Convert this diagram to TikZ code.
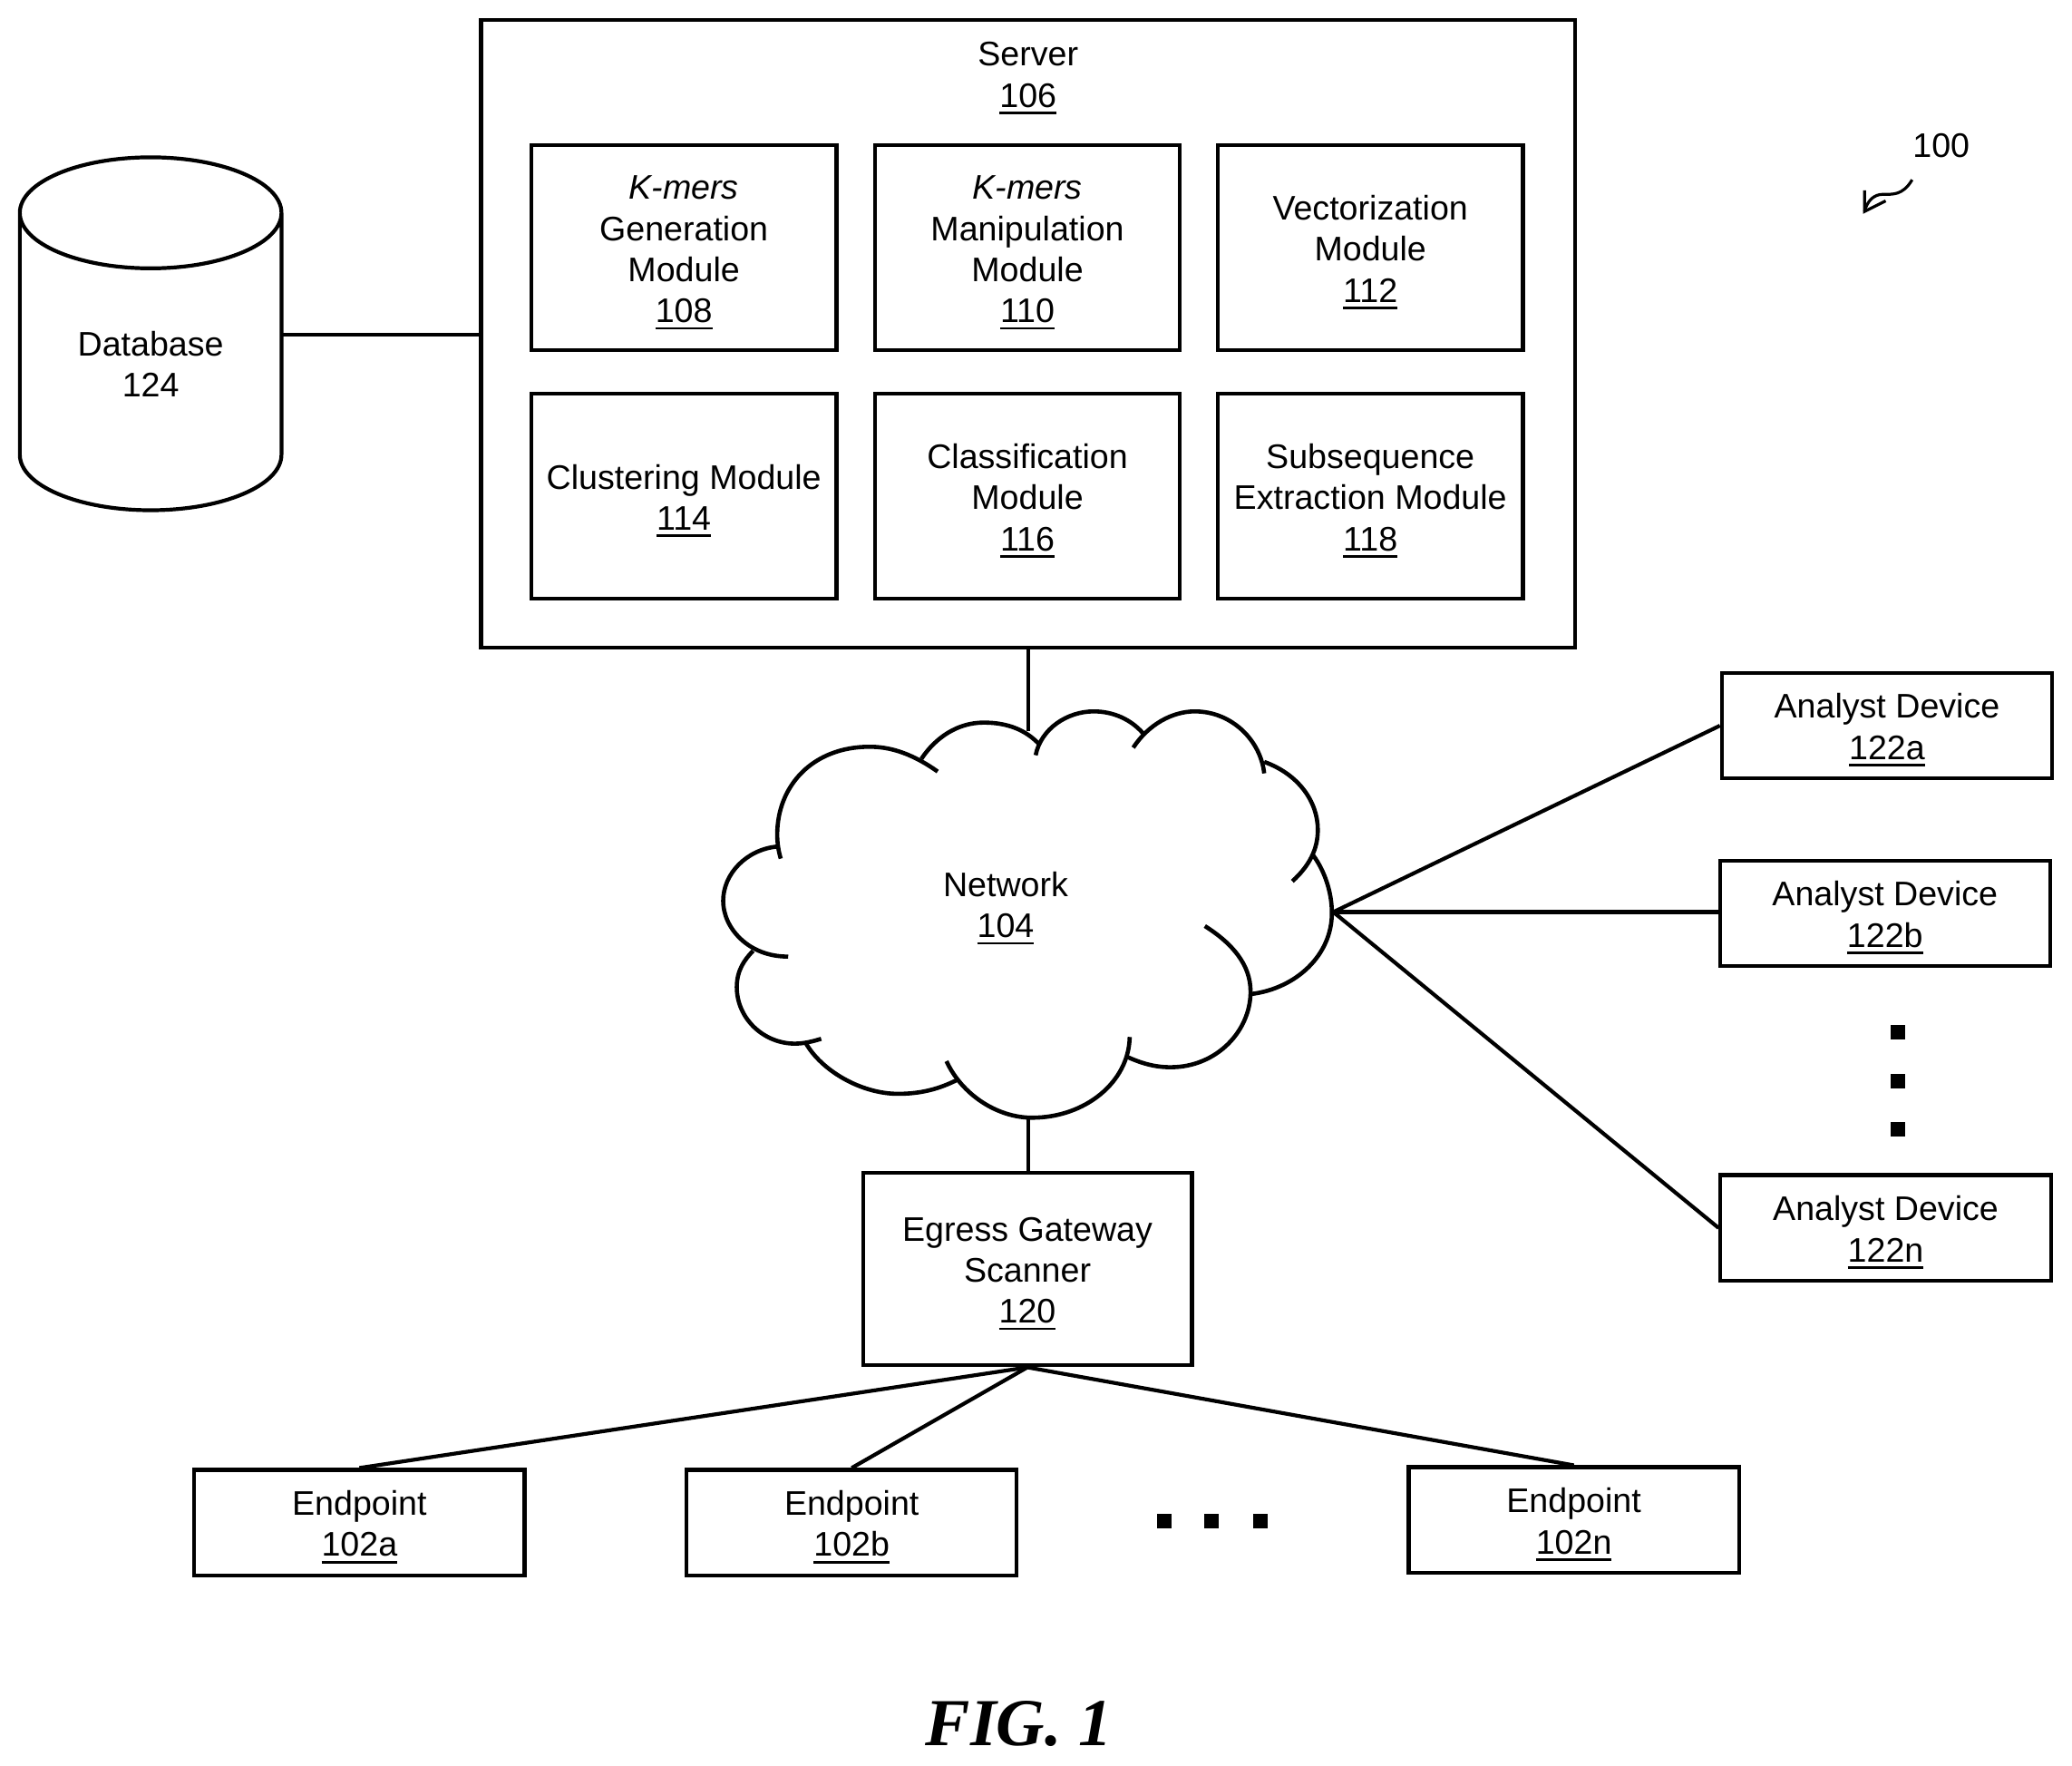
\documentclass[tikz,border=0pt]{standalone}
\usepackage{fontspec}
\setmainfont{Liberation Sans}
\newfontfamily\figfont{Liberation Serif}
\newcommand{\ul}[1]{\leavevmode\setbox0=\hbox{#1}\rlap{\rule[-3.8pt]{\wd0}{1.3pt}}\box0 }
\newcommand{\tl}{\rule{0pt}{18.3pt}}
\tikzset{
  ln/.style={line width=2.1pt, black},
  txt/.style={inner sep=0pt, align=center, font=\fontsize{18.8}{22.7}\selectfont},
  boxb/.style={draw, ln, fill=white, txt},
  modbox/.style={boxb, minimum width=231*0.72864pt, minimum height=155*0.72864pt},
  devbox/.style={boxb, minimum width=250*0.72864pt, minimum height=80*0.72864pt},
  dot/.style={fill=black, inner sep=0pt, minimum size=11*0.72864pt},
  cloudln/.style={line width=2.3pt, line cap=butt},
}
\begin{document}
\begin{tikzpicture}[x=0.72864pt,y=-0.72864pt]
\useasboundingbox (0,0) rectangle (1568,1335.4);
% server
\node[boxb, minimum width=828*0.72864pt, minimum height=475*0.72864pt] (server) at (778,252.5) {};
\node[txt] (serverlabel) at (778,59) {Server\\\ul{106}};
\node[modbox] (m108) at (517.5,187.5) {\tl\textit{K-mers}\\Generation\\Module\\\ul{108}};
\node[modbox] (m110) at (777.5,187.5) {\tl\textit{K-mers}\\Manipulation\\Module\\\ul{110}};
\node[modbox] (m112) at (1037,187.5) {\tl Vectorization\\Module\\\ul{112}};
\node[modbox] (m114) at (517.5,375.5) {\tl Clustering Module\\\ul{114}};
\node[modbox] (m116) at (777.5,375.5) {\tl Classification\\Module\\\ul{116}};
\node[modbox] (m118) at (1037,375.5) {\tl Subsequence\\Extraction Module\\\ul{118}};
% database
\draw[ln] (15,161) arc[start angle=180,end angle=-180,x radius=99,y radius=42]
  (15,161) -- (15,344) arc[start angle=180,end angle=0,x radius=99,y radius=42] -- (213,161);
\node[txt] (db) at (114,275.5) {Database\\124};
\coordinate (dbE) at (213,253);
\coordinate (srvW) at (server.west |- dbE);
\draw[ln] (dbE) -- (srvW);
% cloud
\begin{scope}[shift={(528.3,521.5)},xscale=0.33260,yscale=0.22872,cloudln]
\draw (545,272) .. controls (480,205) and (430,190) .. (390,190) .. controls (260,190) and (180,320) .. (180,480) .. controls (180,510) and (183,535) .. (188,560);
\draw (180,520) .. controls (110,530) and (57,610) .. (57,700) .. controls (57,790) and (115,885) .. (205,884);
\draw (125,865) .. controls (105,895) and (88,930) .. (88,985) .. controls (88,1090) and (150,1172) .. (220,1172) .. controls (240,1172) and (260,1165) .. (280,1156);
\draw (245,1170) .. controls (280,1260) and (370,1338) .. (455,1338) .. controls (510,1338) and (550,1320) .. (588,1293);
\draw (565,1230) .. controls (600,1340) and (680,1417) .. (760,1417) .. controls (880,1417) and (980,1300) .. (982,1150);
\draw (975,1215) .. controls (1010,1238) and (1040,1250) .. (1075,1250) .. controls (1180,1250) and (1257,1130) .. (1257,1000) .. controls (1257,910) and (1215,840) .. (1153,783);
\draw (1258,1008) .. controls (1360,990) and (1442,880) .. (1442,740) .. controls (1442,670) and (1425,600) .. (1400,550);
\draw (1352,635) .. controls (1390,585) and (1410,530) .. (1410,465) .. controls (1410,370) and (1365,280) .. (1288,240);
\draw (1288,278) .. controls (1280,170) and (1215,73) .. (1130,73) .. controls (1080,73) and (1025,115) .. (990,193);
\draw (1012,145) .. controls (985,100) and (945,73) .. (900,73) .. controls (840,73) and (780,130) .. (768,218);
\draw (775,180) .. controls (745,135) and (705,110) .. (650,110) .. controls (590,110) and (540,160) .. (508,230);
\end{scope}
\node[txt] (net) at (761,687) {Network\\\ul{104}};
\coordinate (cloudN) at (778,553);
\coordinate (cloudS) at (778,847);
\coordinate (cloudE) at (1009,690);
% egress
\node[boxb, minimum width=249*0.72864pt, minimum height=146*0.72864pt] (egress) at (777.5,960) {\tl Egress Gateway\\Scanner\\\ul{120}};
% analyst devices
\node[devbox] (a) at (1428,549) {\tl Analyst Device\\\ul{122a}};
\node[devbox] (b) at (1426.5,691) {\tl Analyst Device\\\ul{122b}};
\node[devbox] (n) at (1427,929) {\tl Analyst Device\\\ul{122n}};
% endpoints
\node[devbox] (e1) at (272,1152) {\tl Endpoint\\\ul{102a}};
\node[devbox] (e2) at (644.5,1152) {\tl Endpoint\\\ul{102b}};
\node[devbox] (e3) at (1191,1150) {\tl Endpoint\\\ul{102n}};
% connectors
\draw[ln] (server.south -| cloudN) -- (cloudN);
\draw[ln] (cloudS) -- (egress.north -| cloudS);
\draw[ln] (cloudE) -- (a.west);
\draw[ln] (cloudE) -- (b.west |- cloudE);
\draw[ln] (cloudE) -- (n.west);
\draw[ln] (egress.south) -- (e1.north);
\draw[ln] (egress.south) -- (e2.north);
\draw[ln] (egress.south) -- (e3.north);
% ellipsis dots
\node[dot] (d1) at (1436,781) {};
\node[dot] (d2) at (1436,818) {};
\node[dot] (d3) at (1436,854) {};
\node[dot] (d4) at (881,1151) {};
\node[dot] (d5) at (917,1151) {};
\node[dot] (d6) at (954,1151) {};
% 100
\node[txt] (ref) at (1469,110) {100};
\coordinate (arrS) at (1447,136);
\coordinate (arrT) at (1411,160);
\draw[line width=1.6pt] (arrS) .. controls (1440,148) and (1432,147) .. (1425,147) .. controls (1418,147) and (1413,152) .. (arrT);
\draw[line width=1.6pt] (1411,144) -- (arrT) -- (1427,152);
% fig
\node[inner sep=0pt] (fig) at (771,1304) {\figfont\fontsize{37}{40}\selectfont\bfseries\itshape FIG. 1};
\end{tikzpicture}
\end{document}
